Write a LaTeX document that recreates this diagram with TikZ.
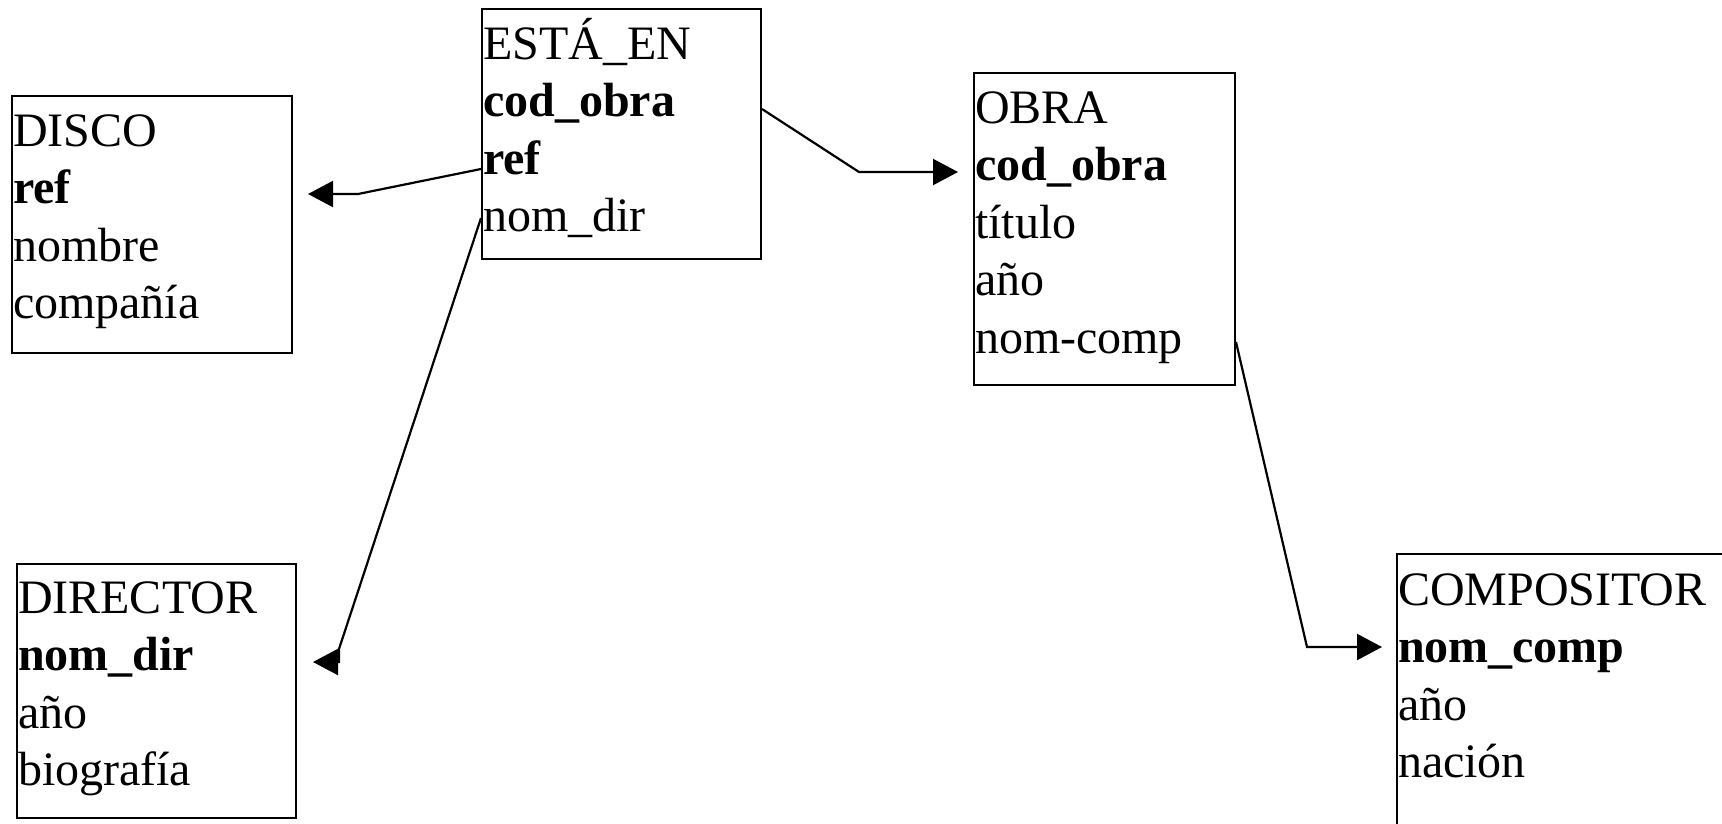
\documentclass[tikz,border=0pt]{standalone}
\usepackage{fontspec}
\setmainfont{Liberation Serif}
\usetikzlibrary{arrows.meta,calc}
\newcommand{\firststrut}{\rule{0pt}{45pt}}
\begin{document}
\begin{tikzpicture}[x=1pt,y=-1pt,
  box/.style={draw, line width=2.2pt, rectangle, anchor=north west, inner sep=0pt, outer sep=0pt},
  fields/.style={anchor=north west, inner sep=0pt, outer sep=0pt, align=left,
    font=\fontsize{48}{57.5}\selectfont},
  conn/.style={line width=2.2pt, -{Triangle[length=25pt,width=26pt]}}]
\clip (0,0) rectangle (1722,823);
\fill[white] (0,0) rectangle (1722,823);

% boxes
\node[box, minimum width=280pt, minimum height=257pt] (disco) at (12,96) {};
\node[box, minimum width=279pt, minimum height=250pt] (esta) at (482,9) {};
\node[box, minimum width=261pt, minimum height=312pt] (obra) at (974,73) {};
\node[box, minimum width=279pt, minimum height=254pt] (director) at (17,564) {};
\node[box, minimum width=360pt, minimum height=300pt] (compositor) at (1397,554) {};

% texts (first baseline 45pt below the node's top)
\node[fields] (discot) at ($(disco.north west)+(1,5)$) {\firststrut DISCO\\\textbf{ref}\\nombre\\compañía};
\node[fields] (estat) at ($(esta.north west)+(1,5)$) {\firststrut ESTÁ\_EN\\\textbf{cod\_obra}\\\textbf{ref}\\nom\_dir};
\node[fields] (obrat) at ($(obra.north west)+(1,5)$) {\firststrut OBRA\\\textbf{cod\_obra}\\título\\año\\nom-comp};
\node[fields] (directort) at ($(director.north west)+(1,4)$) {\firststrut DIRECTOR\\\textbf{nom\_dir}\\año\\biografía};
\node[fields] (compositort) at ($(compositor.north west)+(1,6)$) {\firststrut COMPOSITOR\\\textbf{nom\_comp}\\año\\nación};

% connector points
\coordinate (s1) at ($(esta.north west)+(-1,160)$);
\coordinate (b1) at ($(disco.north east)+(66,98)$);
\coordinate (t1) at ($(disco.north east)+(16,98)$);

\coordinate (s2) at ($(esta.north east)+(1,100)$);
\coordinate (b2) at ($(obra.north west)+(-115,99)$);
\coordinate (t2) at ($(obra.north west)+(-16,99)$);

\coordinate (s3) at ($(esta.north west)+(-1,209)$);
\coordinate (b3a) at ($(director.north east)+(43,85)$);
\coordinate (b3b) at ($(director.north east)+(43,98)$);
\coordinate (t3) at ($(director.north east)+(17,98)$);

\coordinate (s4) at ($(obra.north east)+(1,269)$);
\coordinate (b4) at ($(compositor.north west)+(-90,93)$);
\coordinate (t4) at ($(compositor.north west)+(-15,93)$);

% connectors
\draw[conn] (s1) -- (b1) -- (t1);
\draw[conn] (s2) -- (b2) -- (t2);
\draw[conn] (s3) -- (b3a) -- (b3b) -- (t3);
\draw[conn] (s4) -- (b4) -- (t4);
\end{tikzpicture}
\end{document}
